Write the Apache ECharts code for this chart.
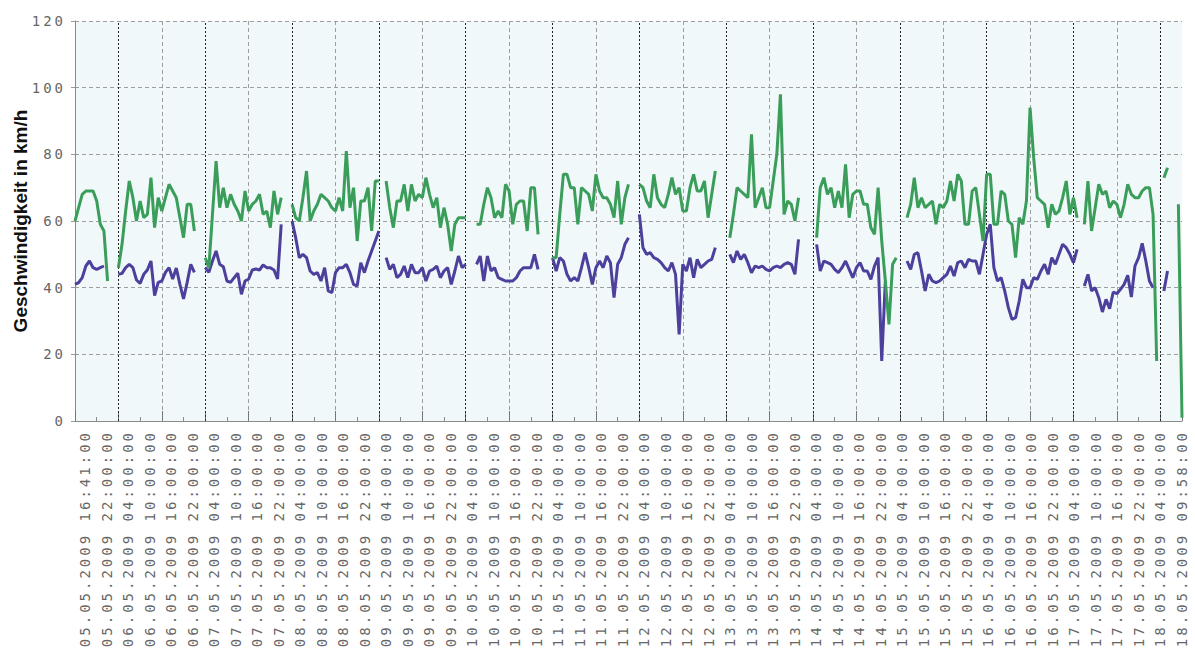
<!DOCTYPE html>
<html>
<head>
<meta charset="utf-8">
<script src="https://cdn.jsdelivr.net/npm/echarts@6.0.0/dist/echarts.min.js"></script>
<style>
html, body { margin: 0; padding: 0; background: #ffffff; }
#c { width: 1195px; height: 657px; }
#c svg text[style*="Mono"], #c svg text[font-family*="Mono"] { letter-spacing: 3px; }
</style>
</head>
<body>
<div id="c"></div>
<script>
// Tick labels of the x axis (every 6 hours)
const tickLabels = [
  "05.05.2009 16:41:00", "05.05.2009 22:00:00",
  "06.05.2009 04:00:00", "06.05.2009 10:00:00", "06.05.2009 16:00:00", "06.05.2009 22:00:00",
  "07.05.2009 04:00:00", "07.05.2009 10:00:00", "07.05.2009 16:00:00", "07.05.2009 22:00:00",
  "08.05.2009 04:00:00", "08.05.2009 10:00:00", "08.05.2009 16:00:00", "08.05.2009 22:00:00",
  "09.05.2009 04:00:00", "09.05.2009 10:00:00", "09.05.2009 16:00:00", "09.05.2009 22:00:00",
  "10.05.2009 04:00:00", "10.05.2009 10:00:00", "10.05.2009 16:00:00", "10.05.2009 22:00:00",
  "11.05.2009 04:00:00", "11.05.2009 10:00:00", "11.05.2009 16:00:00", "11.05.2009 22:00:00",
  "12.05.2009 04:00:00", "12.05.2009 10:00:00", "12.05.2009 16:00:00", "12.05.2009 22:00:00",
  "13.05.2009 04:00:00", "13.05.2009 10:00:00", "13.05.2009 16:00:00", "13.05.2009 22:00:00",
  "14.05.2009 04:00:00", "14.05.2009 10:00:00", "14.05.2009 16:00:00", "14.05.2009 22:00:00",
  "15.05.2009 04:00:00", "15.05.2009 10:00:00", "15.05.2009 16:00:00", "15.05.2009 22:00:00",
  "16.05.2009 04:00:00", "16.05.2009 10:00:00", "16.05.2009 16:00:00", "16.05.2009 22:00:00",
  "17.05.2009 04:00:00", "17.05.2009 10:00:00", "17.05.2009 16:00:00", "17.05.2009 22:00:00",
  "18.05.2009 04:00:00", "18.05.2009 09:58:00"
];

// Hourly values (index = hours after start), null = no data
const greenSpeed = [
  60,64,68,69,69,69,66,59,57,42,null,null,
  46,53,63,72,67,60,66,61,62,73,58,67,63,67,71,69,67,61,55,65,65,57,null,null,
  49,46,62,78,64,70,64,68,65,63,60,69,63,65,66,68,62,63,58,69,62,67,null,null,
  65,61,60,67,75,60,63,65,68,67,66,64,63,67,63,81,64,70,54,66,66,70,57,72,
  72,null,72,64,58,66,66,71,63,71,66,68,67,73,68,64,67,58,64,59,51,59,61,61,
  61,null,null,59,59,65,70,67,61,63,61,71,69,59,65,66,66,57,70,70,56,null,null,null,
  49,49,62,74,74,70,70,59,70,69,68,63,74,69,67,67,65,61,72,59,67,71,null,null,
  71,70,66,64,74,67,65,64,68,73,68,70,63,63,70,74,69,69,72,61,68,75,null,null,
  null,55,62,70,69,68,67,86,64,67,70,64,64,72,80,98,62,66,65,60,67,null,null,null,
  null,55,70,73,68,70,64,69,64,77,61,68,69,69,65,65,58,56,70,54,42,29,47,49,
  null,null,61,65,73,64,67,64,65,66,59,65,64,66,72,66,74,72,59,59,69,70,62,54,
  74,74,59,59,69,68,60,59,49,61,59,66,94,79,67,66,65,58,65,62,63,67,72,62,
  67,61,null,59,72,57,64,71,68,69,64,66,65,61,65,71,68,67,67,69,70,70,62,18,
  null,73,76,null,null,65,1
];

const blueSpeed = [
  41,41.5,43,46.5,48,46,45.5,46,46.5,null,null,null,
  44,44.3,46,47,46,42.3,41.3,44,45.3,48,37.6,41.6,42,44.6,46,42.6,45.9,41,36.6,41.6,47,44.6,null,null,
  46,44.6,48,51,47,46.3,42,41.6,43,44.3,38,42,42.6,45.3,45.6,45.3,46.8,46,46,45.3,42.6,59,null,null,
  60,55,49,50,49,45,44,44.5,42,46,39,38.5,44.5,46,46,47,44.5,41,40.5,47.5,44.5,48,51,54,
  57,null,49,45.5,47,43,44,46.5,43,47,44.5,44.5,46,42,45,45.5,46.5,43,45,46,41,45,49.5,46,
  47,null,null,47,49.5,42,49.5,45,46,43,42.5,42,42,42,43,45,46,46,46,50,45.5,null,null,null,
  49,45,49,48,44,42,43,42,46,50.5,46,41,46,48,46,49.5,47.5,37,47,49,53,55,null,null,
  62,52,50,50.5,49,48.5,47.5,46,45,47.5,44,26,47,45,49,43,48.5,46,47,48,48.5,52,null,null,
  null,50,47.5,51,48.5,50,47.5,44.5,46.5,46,46.5,45.5,45,46,46.5,46,47,47.5,47,44,54.5,null,null,null,
  null,53,45,48,47.5,47,45.5,44.5,46,48,45.5,43,46,47.5,45,45,42.5,46.5,49,18,42,null,null,null,
  null,null,48,45.5,50,50.5,45,39,44,42,41.5,42,43,44,46.5,43.5,47.5,48,46,48.5,48,48,44,50,
  56,59,46,42,43,39,34,30.5,31,36,42.5,40,40,43,42.5,45,47,44,49,47,50,53,52,50,
  47.5,51.5,null,40.5,44,39,40,37,32.7,36.5,33.7,38.7,38.2,39.5,41,43.7,37.2,46.5,49,53.3,48,42,40,null,
  null,39,45,null,null,null,null
];

// Hours (axis values) of the darker day grid lines (04:00 ticks)
const dayLineHours = [12, 36, 60, 84, 108, 132, 156, 180, 204, 228, 252, 276, 300];

const yTicks = { min: 0, max: 120, step: 20 };

const labelValues = tickLabels.map((_, k) => k * 6);
const toPairs = arr => arr.map((v, i) => [i, v]);
const mono = 'DejaVu Sans Mono';
const gridGray = '#9e9e9e';

const chart = echarts.init(document.getElementById('c'), null, { renderer: 'svg', width: 1195, height: 657 });

const option = {
  backgroundColor: '#ffffff',
  animation: false,
  grid: { left: 75, right: 13, top: 21, bottom: 236, show: true, backgroundColor: '#f0f8fa', borderWidth: 0 },
  xAxis: [
    {
      type: 'value', min: 0, max: 306, interval: 6, position: 'bottom',
      axisLine: { show: true, onZero: false, lineStyle: { color: '#8a8a8a', width: 1 } },
      axisTick: { show: true, inside: true, length: 4, lineStyle: { color: '#8a8a8a' } },
      axisLabel: { show: false }, splitLine: { show: false }
    },
    {
      type: 'value', min: 0, max: 306, interval: 24, position: 'bottom',
      axisLine: { show: false }, axisTick: { show: false }, axisLabel: { show: false },
      splitLine: { show: true, showMinLine: false, showMaxLine: false, lineStyle: { color: gridGray, type: [4, 3], width: 1 } }
    },
    {
      type: 'value', min: 0, max: 306, interval: 12, position: 'bottom',
      axisLine: { show: false }, axisLabel: { show: false }, splitLine: { show: false },
      axisTick: { show: true, inside: true, length: 10, lineStyle: { color: '#777777' } }
    },
    {
      type: 'value', min: -2.87, max: 306, position: 'bottom',
      axisLine: { show: false }, axisTick: { show: false }, splitLine: { show: false },
      axisLabel: {
        show: true, customValues: labelValues, rotate: 90, margin: 9,
        fontFamily: mono, fontSize: 14, color: '#666666',
        formatter: v => tickLabels[Math.round(v / 6)]
      }
    }
  ],
  yAxis: {
    type: 'value', min: yTicks.min, max: yTicks.max, interval: yTicks.step,
    name: 'Geschwindigkeit in km/h', nameLocation: 'middle', nameGap: 45,
    nameTextStyle: { fontFamily: 'Liberation Sans', fontWeight: 'bold', fontSize: 19, color: '#111111' },
    axisLine: { show: true, lineStyle: { color: '#8a8a8a' } },
    axisTick: { show: true, length: 4, lineStyle: { color: '#999999' } },
    axisLabel: { fontFamily: mono, fontSize: 14, color: '#666666', margin: 9 },
    splitLine: { show: true, lineStyle: { color: gridGray, type: [4, 3], width: 1 } }
  },
  series: [
    {
      name: 'Tagesgrenzen', type: 'line', data: [], xAxisIndex: 0,
      markLine: {
        silent: true, symbol: 'none', z: 1, animation: false,
        label: { show: false },
        lineStyle: { color: '#222222', type: [2, 2], width: 1 },
        data: dayLineHours.map(h => ({ xAxis: h }))
      }
    },
    {
      name: 'v2', type: 'line', data: toPairs(blueSpeed), xAxisIndex: 0,
      showSymbol: false, connectNulls: false, z: 3,
      lineStyle: { color: '#4d409c', width: 3 }, itemStyle: { color: '#4d409c' }
    },
    {
      name: 'v1', type: 'line', data: toPairs(greenSpeed), xAxisIndex: 0,
      showSymbol: false, connectNulls: false, z: 4,
      lineStyle: { color: '#3a9e5a', width: 3 }, itemStyle: { color: '#3a9e5a' }
    }
  ]
};
chart.setOption(option);
</script>
</body>
</html>
